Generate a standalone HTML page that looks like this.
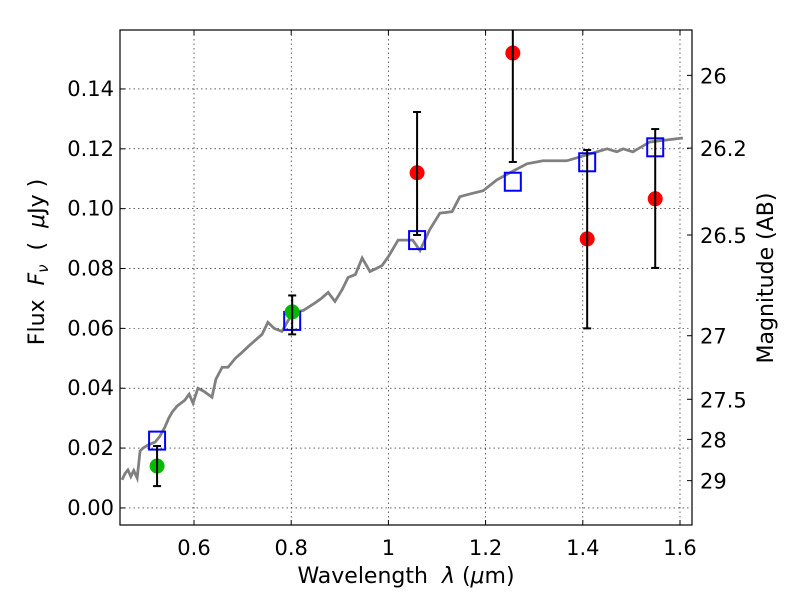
<!DOCTYPE html>
<html><head><meta charset="utf-8"><style>
body{margin:0;background:#fff;}
svg{display:block;font-family:"DejaVu Sans","Liberation Sans",sans-serif;}
</style></head><body>
<svg id="chart" width="800" height="600"></svg>
<script>
const specLam=[0.452,0.458,0.464,0.470,0.476,0.483,0.489,0.495,0.505,0.520,0.530,0.540,0.548,0.555,0.565,0.581,0.590,0.598,0.608,0.620,0.637,0.645,0.658,0.670,0.685,0.699,0.712,0.726,0.740,0.752,0.765,0.781,0.795,0.808,0.825,0.849,0.862,0.876,0.890,0.905,0.917,0.932,0.946,0.955,0.962,0.975,0.987,1.0,1.02,1.038,1.050,1.065,1.085,1.106,1.131,1.147,1.170,1.195,1.223,1.250,1.285,1.318,1.367,1.421,1.450,1.470,1.483,1.503,1.538,1.606];
const specFlux=[0.0094,0.0115,0.0127,0.0105,0.0125,0.010,0.019,0.020,0.021,0.022,0.024,0.027,0.030,0.032,0.034,0.036,0.038,0.035,0.040,0.039,0.037,0.043,0.047,0.047,0.050,0.052,0.054,0.056,0.058,0.062,0.060,0.059,0.063,0.0655,0.066,0.0685,0.070,0.072,0.069,0.073,0.077,0.078,0.0835,0.081,0.079,0.080,0.081,0.084,0.0895,0.0895,0.0895,0.086,0.093,0.0985,0.099,0.104,0.105,0.106,0.1096,0.112,0.115,0.116,0.116,0.1186,0.120,0.119,0.120,0.119,0.1223,0.1236];
const modelLam=[0.524,0.802,1.059,1.256,1.409,1.549];
const modelFlux=[0.0225,0.0625,0.0895,0.109,0.1155,0.1205];
const redLam=[1.059,1.256,1.409,1.549];
const redFlux=[0.112,0.152,0.0899,0.1033];
const redLo=[0.0912,0.1156,0.060,0.0802];
const redHi=[0.1323,0.19,0.1196,0.1266];
const greenLam=[0.524,0.802];
const greenFlux=[0.014,0.0655];
const greenLo=[0.0073,0.058];
const greenHi=[0.0207,0.071];
const xTicks=[0.6,0.8,1,1.2,1.4,1.6];
const xTickLabels=["0.6","0.8","1","1.2","1.4","1.6"];
const yTicks=[0,0.02,0.04,0.06,0.08,0.1,0.12,0.14];
const yTickLabels=["0.00","0.02","0.04","0.06","0.08","0.10","0.12","0.14"];
const magTicks=[26,26.2,26.5,27,27.5,28,29];
const magLabels=["26","26.2","26.5","27","27.5","28","29"];

const L=120,R=692,T=30,B=525;
const xmin=0.4477,xmax=1.6247,ymin=-0.0057,ymax=0.1597;
const X=v=>L+(v-xmin)/(xmax-xmin)*(R-L);
const Y=v=>B-(v-ymin)/(ymax-ymin)*(B-T);
const NS="http://www.w3.org/2000/svg";
const svg=document.getElementById('chart');
function el(tag,attrs,parent){const e=document.createElementNS(NS,tag);for(const k in attrs)e.setAttribute(k,attrs[k]);(parent||svg).appendChild(e);return e;}
const clip=el('clipPath',{id:'pc'});el('rect',{x:L,y:T,width:R-L,height:B-T},clip);

xTicks.forEach((v,i)=>{const x=X(v);
 let g=el('line',{x1:x,x2:x,y1:T,y2:B,stroke:'#000','stroke-width':0.6,'stroke-dasharray':'1.5,3'});
 
 el('line',{x1:x,x2:x,y1:B,y2:B-5,stroke:'#000'});el('line',{x1:x,x2:x,y1:T,y2:T+5,stroke:'#000'});
 let t=el('text',{x:x,y:B+30,'font-size':21,'text-anchor':'middle'});t.textContent=xTickLabels[i];
 });
yTicks.forEach((v,i)=>{const y=Y(v);
 let g=el('line',{x1:L,x2:R,y1:y,y2:y,stroke:'#000','stroke-width':0.6,'stroke-dasharray':'1.5,3'});
 
 el('line',{x1:L,x2:L+5,y1:y,y2:y,stroke:'#000'});
 let t=el('text',{x:L-6,y:y+7,'font-size':21,'text-anchor':'end'});t.textContent=yTickLabels[i];
 });
magTicks.forEach((m,i)=>{const y=Y(Math.pow(10,(23.9-m)/2.5));
 el('line',{x1:R,x2:R-5,y1:y,y2:y,stroke:'#000'});
 let t=el('text',{x:R+8,y:y+8,'font-size':21});t.textContent=magLabels[i];
 });

const g=el('g',{'clip-path':'url(#pc)'});
let pts=specLam.map((l,i)=>X(l)+','+Y(specFlux[i])).join(' ');
let sp=el('polyline',{points:pts,fill:'none',stroke:'#808080','stroke-width':2.8},g);

function errbar(lam,lo,hi){const x=X(lam);
 el('line',{x1:x,x2:x,y1:Y(lo),y2:Y(hi),stroke:'#000','stroke-width':2},g);
 el('line',{x1:x-4,x2:x+4,y1:Y(lo),y2:Y(lo),stroke:'#000','stroke-width':2},g);
 el('line',{x1:x-4,x2:x+4,y1:Y(hi),y2:Y(hi),stroke:'#000','stroke-width':2},g);}
modelLam.forEach((l,i)=>{let r=el('rect',{x:X(l)-8,y:Y(modelFlux[i])-9,width:16,height:18,fill:'none',stroke:'#0000ff','stroke-width':2},g);
 });
greenLam.forEach((l,i)=>{let c=el('circle',{cx:X(l),cy:Y(greenFlux[i]),r:7.5,fill:'#00bb00'},g);
 
 errbar(l,greenLo[i],greenHi[i]);});
redLam.forEach((l,i)=>{let c=el('circle',{cx:X(l),cy:Y(redFlux[i]),r:7.5,fill:'#ff0000'},g);
 
 errbar(l,redLo[i],redHi[i]);});

let fr=el('rect',{x:L,y:T,width:R-L,height:B-T,fill:'none',stroke:'#000','stroke-width':1.2});

let xl=el('text',{x:406,y:583,'font-size':22,'text-anchor':'middle'});
xl.innerHTML='Wavelength\u00a0\u00a0<tspan font-style="italic">λ</tspan> (<tspan font-style="italic">μ</tspan>m)';

let yl=el('text',{x:44,y:262,'font-size':22,'text-anchor':'middle',transform:'rotate(-90 44 262)'});
yl.innerHTML='Flux\u00a0\u00a0<tspan font-style="italic">F</tspan><tspan font-style="italic" font-size="15" dy="4">ν</tspan><tspan dy="-4">\u00a0\u00a0(\u00a0\u00a0</tspan><tspan font-style="italic">μ</tspan>Jy )';

let ml=el('text',{x:773,y:278,'font-size':22,'text-anchor':'middle',transform:'rotate(-90 773 278)'});
ml.textContent='Magnitude (AB)';

</script>
</body></html>
